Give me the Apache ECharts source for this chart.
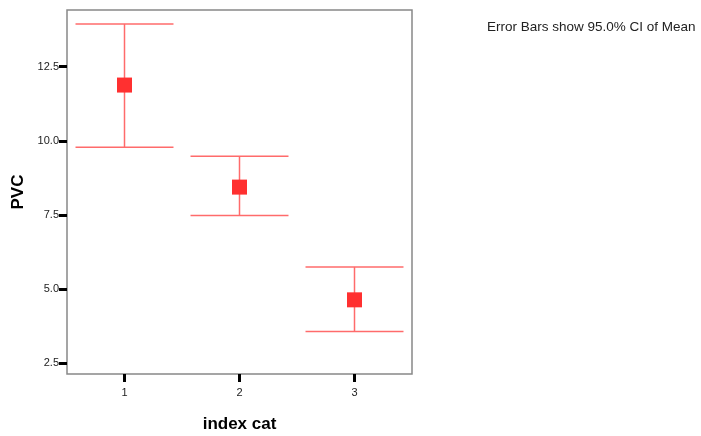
<!DOCTYPE html>
<html>
<head>
<meta charset="utf-8">
<script src="https://cdn.jsdelivr.net/npm/echarts@6/dist/echarts.min.js"></script>
<style>html,body{margin:0;padding:0;background:#fff;}#c{width:701px;height:436px;}</style>
</head>
<body>
<div id="c"></div>
<script>
const categories = ['1', '2', '3'];
const means = [11.88, 8.44, 4.64];
const lower = [9.78, 7.48, 3.57];
const upper = [13.94, 9.48, 5.75];
const yTicks = [2.5, 5.0, 7.5, 10.0, 12.5];

const FONT = 'Arial, "Liberation Sans", sans-serif';
const chart = echarts.init(document.getElementById('c'));
const errData = categories.map((c, i) => [i, lower[i], upper[i]]);

chart.setOption({
  animation: false,
  backgroundColor: '#fff',
  title: {
    text: 'Error Bars show 95.0% CI of Mean',
    left: 482, top: 15,
    textStyle: { fontFamily: FONT, fontSize: 13.5, fontWeight: 'normal', color: '#222' }
  },
  grid: { left: 67, top: 10, width: 345, height: 364, containLabel: false, outerBoundsMode: 'none', show: true, borderColor: '#888', borderWidth: 1.5, backgroundColor: 'transparent' },
  xAxis: {
    type: 'category', data: categories, boundaryGap: true,
    name: 'index cat', nameLocation: 'middle', nameGap: 42,
    nameTextStyle: { fontFamily: FONT, fontSize: 17, fontWeight: 'bold', color: '#000' },
    axisLine: { show: false },
    axisTick: { show: true, alignWithLabel: true, length: 8, lineStyle: { color: '#000', width: 3 } },
    axisLabel: { fontFamily: FONT, fontSize: 11, color: '#222', margin: 13 },
    splitLine: { show: false }
  },
  yAxis: {
    type: 'value', min: 2.14, max: 14.41,
    name: 'PVC', nameLocation: 'middle', nameGap: 40,
    nameTextStyle: { fontFamily: FONT, fontSize: 17, fontWeight: 'bold', color: '#000' },
    axisLine: { show: false },
    axisTick: { show: true, length: 8, customValues: yTicks, lineStyle: { color: '#000', width: 3 } },
    axisLabel: { fontFamily: FONT, fontSize: 11, color: '#222', margin: 8, customValues: yTicks, formatter: v => v.toFixed(1) },
    splitLine: { show: false }
  },
  series: [
    {
      type: 'custom',
      data: errData,
      renderItem: function (params, api) {
        const x = api.value(0);
        const lo = api.coord([x, api.value(1)]);
        const hi = api.coord([x, api.value(2)]);
        const half = api.size([1, 0])[0] * 0.426;
        const style = { stroke: '#ff6b6b', lineWidth: 1.5 };
        return {
          type: 'group',
          children: [
            { type: 'line', shape: { x1: hi[0], y1: hi[1], x2: lo[0], y2: lo[1] }, style },
            { type: 'line', shape: { x1: hi[0] - half, y1: hi[1], x2: hi[0] + half, y2: hi[1] }, style },
            { type: 'line', shape: { x1: lo[0] - half, y1: lo[1], x2: lo[0] + half, y2: lo[1] }, style }
          ]
        };
      },
      z: 2
    },
    {
      type: 'scatter',
      data: means,
      symbol: 'rect', symbolSize: 15,
      itemStyle: { color: '#ff3030', opacity: 1 },
      z: 3
    }
  ]
});
</script>
</body>
</html>
